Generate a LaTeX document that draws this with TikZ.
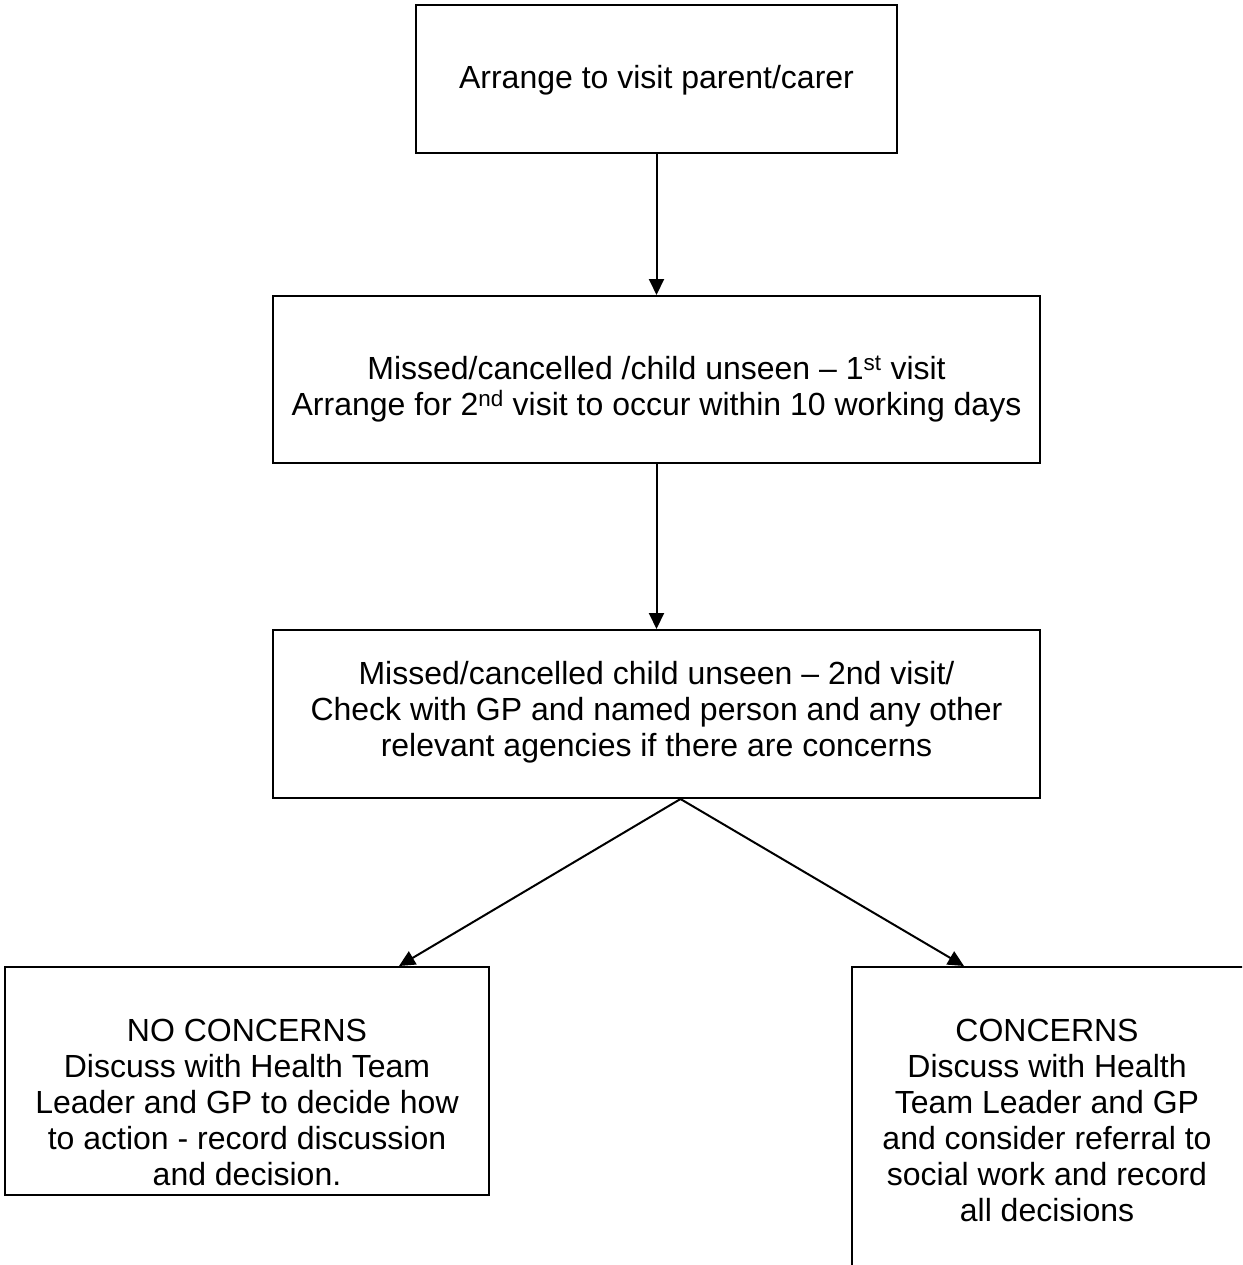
\documentclass[tikz,border=0pt]{standalone}
\usepackage{fontspec}
\setmainfont{Liberation Sans}
\usetikzlibrary{arrows.meta}
\begin{document}
\begin{tikzpicture}[x=1pt,y=-1pt,
  box/.style={draw=black, line width=2pt, rectangle, inner sep=0pt},
  txt/.style={align=center, inner sep=0pt, font=\fontsize{32}{36}\selectfont},
  conn/.style={draw=black, line width=2pt, -{Triangle[length=16pt,width=15pt]}}]
\useasboundingbox (0,0) rectangle (1242,1265);
\clip (0,0) rectangle (1242,1265);
% boxes
\node[box, minimum width=481pt, minimum height=148pt] (b1) at (656.5,79) {};
\node[box, minimum width=767pt, minimum height=167pt] (b2) at (656.5,379.5) {};
\node[box, minimum width=767pt, minimum height=168pt] (b3) at (656.5,714) {};
\node[box, minimum width=484pt, minimum height=228pt] (b4) at (247,1081) {};
\node[box, minimum width=394pt, minimum height=340pt] (b5) at (1049,1137) {};
% texts
\node[txt] (t1) at (656.5,80) {Arrange to visit parent/carer};
\node[txt] (t2) at (656.5,389) {Missed/cancelled /child unseen -- 1\textsuperscript{st} visit\\Arrange for 2\textsuperscript{nd} visit to occur within 10 working days};
\node[txt] (t3) at (656.5,712) {Missed/cancelled child unseen -- 2nd visit/\\Check with GP and named person and any other\\relevant agencies if there are concerns};
\node[txt] (t4) at (247,1102) {NO CONCERNS\\ Discuss with Health Team\\Leader and GP to decide how\\to action - record discussion\\and decision.};
\node[txt] (t5) at (1047,1120) {CONCERNS\\ Discuss with Health\\Team Leader and GP\\and consider referral to\\social work and record\\all decisions};
% connectors
\draw[conn] (b1.south) -- (b2.north);
\draw[conn] (b2.south) -- (b3.north);
\draw[conn] ([xshift=24pt]b3.south) -- ([xshift=395pt]b4.north west);
\draw[conn] ([xshift=24pt]b3.south) -- ([xshift=113pt]b5.north west);
\end{tikzpicture}
\end{document}
